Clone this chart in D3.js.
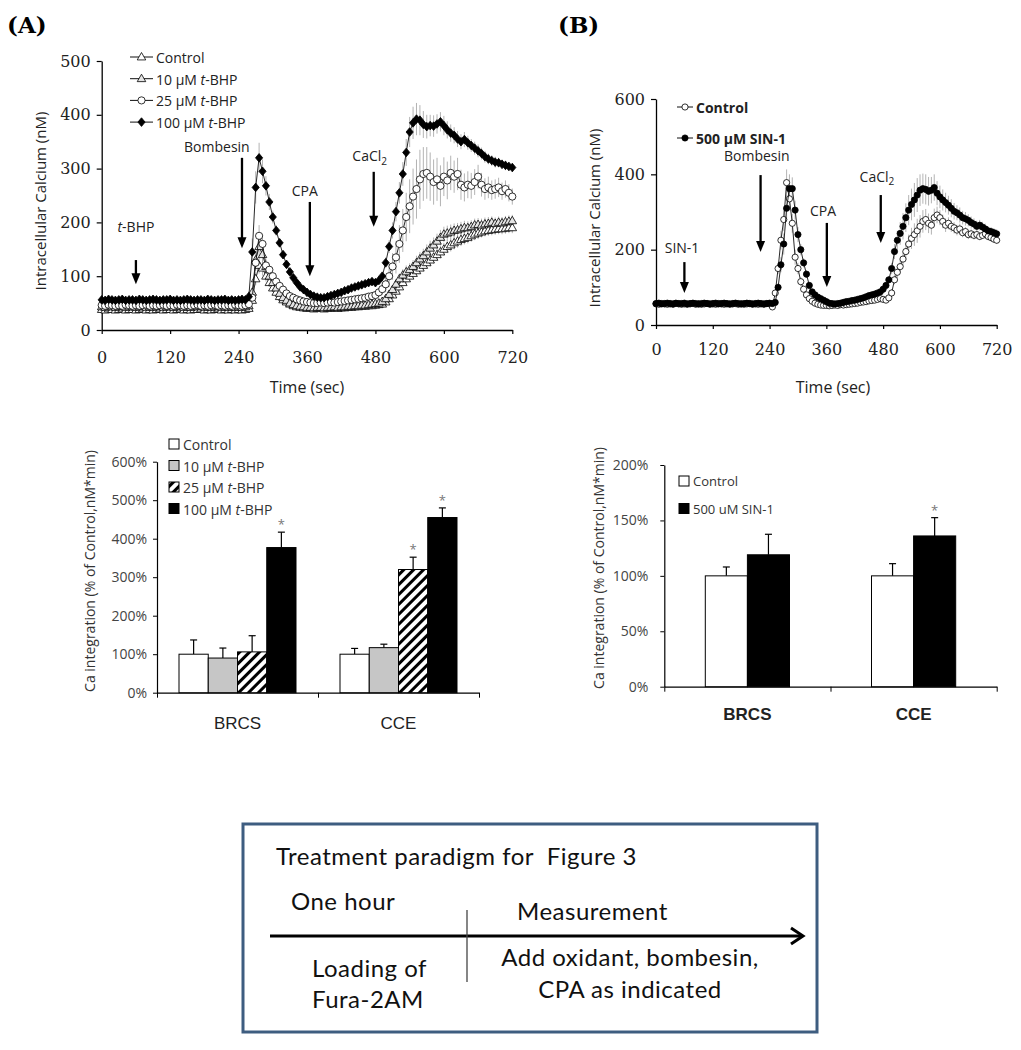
<!DOCTYPE html>
<html>
<head>
<meta charset="utf-8">
<script src="https://cdn.jsdelivr.net/npm/d3@7"></script>
<style>
  body { margin: 0; background: #fff; }
  svg { display: block; }
</style>
</head>
<body>
<svg id="fig" width="1021" height="1050"></svg>
<script>
// ---------- data ----------
// sampling grid of the calcium traces (sec)
const timeSec = d3.range(0, 721, 6);

// Panel A traces, intracellular calcium (nM)
const ctlA = [
  38,37,39,38,37,38,39,37,38,38,
  37,38,39,37,38,37,38,39,37,38,
  38,37,38,39,37,38,37,38,38,39,
  37,38,37,38,39,37,38,37,38,37,
  38,37,38,40,55,95,120,115,100,88,
  78,70,62,56,52,48,45,43,42,41,
  40,40,39,40,40,39,40,40,41,40,
  41,41,42,42,43,43,44,44,45,45,
  46,47,48,52,58,65,72,80,88,95,
  100,105,110,115,120,125,130,135,140,145,
  150,155,158,162,165,168,170,172,175,178,
  180,182,184,185,186,187,188,188,189,190,
  190];
const ctlAErr = [
  3,3,3,3,3,3,3,3,3,3, 3,3,3,3,3,3,3,3,3,3, 3,3,3,3,3,3,3,3,3,3, 3,3,3,3,3,3,3,3,3,3,
  3,3,3,3,6,12,15,14,10,8,
  7,6,5,4,4,3,3,3,3,3,
  3,3,3,3,3,3,3,3,3,3,
  3,3,3,3,3,3,3,3,3,3,
  3,3,4,5,6,7,8,9,10,10,
  10,10,10,11,11,11,12,12,12,12,
  12,12,12,12,12,12,11,11,11,11,
  11,10,10,10,10,10,10,10,10,10,
  10];
const bhp10 = [
  43,42,44,43,42,43,44,42,43,43,
  42,43,44,42,43,42,43,44,42,43,
  43,42,43,44,42,43,42,43,43,44,
  42,43,42,43,44,42,43,42,43,42,
  43,42,43,45,70,130,155,140,118,100,
  88,78,68,60,55,50,47,45,44,43,
  42,42,41,42,42,41,42,42,43,42,
  43,43,44,44,45,45,46,46,47,48,
  49,50,53,58,66,75,85,95,102,108,
  112,118,125,132,138,145,152,158,165,172,
  178,180,182,185,186,188,190,190,192,195,
  196,195,197,198,200,198,200,199,201,202,
  203];
const bhp10Err = [
  3,3,3,3,3,3,3,3,3,3, 3,3,3,3,3,3,3,3,3,3, 3,3,3,3,3,3,3,3,3,3, 3,3,3,3,3,3,3,3,3,3,
  3,3,3,3,8,14,18,15,12,10,
  8,7,6,5,4,4,3,3,3,3,
  3,3,3,3,3,3,3,3,3,3,
  3,3,3,3,4,4,4,4,4,4,
  4,4,5,6,7,8,9,10,11,12,
  12,12,13,13,13,14,14,14,14,14,
  14,14,14,13,13,13,13,12,12,12,
  12,12,12,12,11,11,11,11,11,11,
  11];
const bhp25 = [
  46,45,47,46,45,46,45,47,46,45,
  46,45,46,47,45,46,45,46,47,45,
  46,45,47,46,45,46,45,46,47,45,
  46,45,46,47,45,46,45,46,45,47,
  46,45,46,48,60,125,175,160,120,112,
  100,90,82,75,68,63,60,57,55,53,
  52,51,50,50,51,50,51,52,51,52,
  53,54,55,56,57,58,59,60,62,63,
  65,70,76,85,100,118,135,160,185,210,
  230,248,262,280,290,292,285,275,280,268,
  285,278,292,285,290,270,265,270,268,275,
  285,270,262,265,260,262,265,258,262,255,
  248];
const bhp25Err = [
  3,3,3,3,3,3,3,3,3,3, 3,3,3,3,3,3,3,3,3,3, 3,3,3,3,3,3,3,3,3,3, 3,3,3,3,3,3,3,3,3,3,
  3,3,3,4,8,15,20,18,12,10,
  8,6,5,5,4,4,4,4,4,4,
  4,4,4,4,4,4,4,4,4,4,
  5,5,5,5,5,5,5,6,6,6,
  6,8,10,15,20,25,30,35,40,45,
  50,52,55,55,50,48,45,42,40,38,
  36,35,32,30,30,28,26,25,24,24,
  22,22,20,20,18,18,18,16,16,16,
  15];
const bhp100 = [
  56,55,57,56,55,56,57,55,56,56,
  55,57,56,55,56,57,56,55,56,56,
  57,55,56,55,56,57,56,55,56,56,
  55,57,56,55,56,56,57,55,56,55,
  56,57,56,62,145,265,320,295,268,238,
  210,185,162,140,122,108,97,88,80,75,
  70,66,63,61,60,60,62,64,66,68,
  70,73,75,78,80,82,84,86,88,90,
  88,92,100,125,155,185,220,255,290,330,
  368,385,392,390,382,378,380,379,383,387,
  380,372,366,362,355,350,354,348,343,338,
  333,328,322,318,315,312,311,308,306,304,
  302];
const bhp100Err = [
  3,3,3,3,3,3,3,3,3,3, 3,3,3,3,3,3,3,3,3,3, 3,3,3,3,3,3,3,3,3,3, 3,3,3,3,3,3,3,3,3,3,
  3,3,3,10,25,30,28,22,18,15,
  12,10,8,7,6,5,5,5,4,4,
  4,4,4,4,4,4,4,4,4,4,
  5,5,5,5,5,5,5,5,5,5,
  5,6,8,10,12,15,18,20,22,25,
  28,30,30,28,25,22,20,20,18,18,
  18,16,16,15,15,14,14,13,12,12,
  12,11,11,10,10,10,9,9,9,8,
  8];

// Panel B traces (nM)
const ctlB = [
  56,55,57,56,55,56,55,57,56,55,
  56,55,56,57,55,56,55,56,57,55,
  56,55,57,56,55,56,55,56,57,55,
  56,55,56,57,55,56,55,56,55,57,
  56,48,85,150,225,280,378,335,270,180,
  150,115,95,80,70,63,58,55,53,52,
  52,51,52,53,52,54,53,54,55,56,
  57,58,60,61,62,64,65,66,68,70,
  68,66,72,85,120,140,155,175,195,215,
  230,240,250,262,275,280,270,265,285,292,
  285,275,265,270,262,258,252,255,245,248,
  240,242,238,240,235,238,242,235,232,228,
  225];
const ctlBErr = [
  3,3,3,3,3,3,3,3,3,3, 3,3,3,3,3,3,3,3,3,3, 3,3,3,3,3,3,3,3,3,3, 3,3,3,3,3,3,3,3,3,3,
  3,3,8,15,25,30,35,30,25,20,
  15,12,10,8,6,5,5,4,4,4,
  4,4,4,4,4,4,4,4,4,4,
  4,4,5,5,5,5,5,6,6,6,
  6,6,8,10,12,15,18,20,22,25,
  28,30,32,30,30,28,26,25,24,22,
  20,18,18,16,15,15,14,14,12,12,
  12,12,11,11,10,10,10,10,10,10,
  10];
const sin1 = [
  57,58,56,57,58,57,56,58,57,57,
  58,56,57,58,57,56,57,58,57,56,
  57,58,56,57,58,57,56,57,58,57,
  56,57,58,57,56,57,58,57,56,57,
  58,57,60,100,160,215,310,362,362,305,
  240,200,165,135,105,88,80,74,70,66,
  62,58,57,56,57,58,60,62,63,65,
  66,68,70,72,75,78,80,82,85,88,
  95,105,120,150,195,225,243,262,285,305,
  320,332,345,358,362,360,355,358,365,350,
  340,332,325,318,310,302,298,292,285,282,
  278,272,268,262,265,260,255,250,248,245,
  242];
const sin1Err = [
  3,3,3,3,3,3,3,3,3,3, 3,3,3,3,3,3,3,3,3,3, 3,3,3,3,3,3,3,3,3,3, 3,3,3,3,3,3,3,3,3,3,
  3,3,5,10,20,28,35,38,30,25,
  20,15,12,10,8,6,5,5,5,4,
  4,4,4,4,4,4,4,4,4,4,
  5,5,5,5,5,5,5,5,5,5,
  6,8,10,15,20,25,30,35,38,40,
  42,45,45,42,40,40,38,35,35,32,
  30,28,26,25,24,22,20,20,18,18,
  16,16,15,15,14,14,14,12,12,12,
  12];

// bar charts: Ca integration (% of control)
const categories = ['BRCS', 'CCE'];
const barKeysA = ['Control', '10 μM *t*-BHP', '25 μM *t*-BHP', '100 μM *t*-BHP'];
const barA = { BRCS: [100, 90, 106, 377], CCE: [100, 117, 320, 455] };
const barAErr = { BRCS: [37, 26, 42, 40], CCE: [15, 9, 32, 25] };
const barASig = { BRCS: [false, false, false, true], CCE: [false, false, true, true] };
const barKeysB = ['Control', '500 uM SIN-1'];
const barB = { BRCS: [100, 119], CCE: [100, 136] };
const barBErr = { BRCS: [8, 18.5], CCE: [11, 16.5] };
const barBSig = { BRCS: [false, false], CCE: [false, true] };

// drug additions (time in sec, arrow from/to in nM, label position)
const eventsA = [
  { t: 60,  from: 130, to: 85,  lt: 60,  ly: 183, label: '*t*-BHP' },
  { t: 246, from: 320, to: 152, lt: 202, ly: 330, label: 'Bombesin' },
  { t: 365, from: 238, to: 100, lt: 356, ly: 250, label: 'CPA' },
  { t: 477, from: 294, to: 192, lt: 470, ly: 314, label: 'CaCl_2' }
];
const eventsB = [
  { t: 60,  from: 167, to: 85,  lt: 55,  ly: 190, label: 'SIN-1' },
  { t: 221, from: 398, to: 194, lt: 213, ly: 435, label: 'Bombesin' },
  { t: 361, from: 271, to: 101, lt: 353, ly: 289, label: 'CPA' },
  { t: 475, from: 345, to: 218, lt: 467, ly: 380, label: 'CaCl_2' }
];

// ---------- drawing ----------
const svg = d3.select('#fig');
const sans = "'Open Sans', 'DejaVu Sans', sans-serif";
const serif = "'DejaVu Serif', 'Liberation Serif', serif";

const defs = svg.append('defs');
const hatch = defs.append('pattern').attr('id', 'hatch')
  .attr('patternUnits', 'userSpaceOnUse').attr('width', 7).attr('height', 7)
  .attr('patternTransform', 'rotate(45)');
hatch.append('rect').attr('width', 7).attr('height', 7).attr('fill', '#fff');
hatch.append('rect').attr('width', 3).attr('height', 7).attr('fill', '#000');

// text with *italic* parts and _subscript
function rich(sel, str) {
  str.split(/(\*[^*]+\*|_\d)/).filter(s => s).forEach(s => {
    if (s[0] === '*') sel.append('tspan').attr('font-style', 'italic').text(s.slice(1, -1));
    else if (s[0] === '_') sel.append('tspan').attr('font-size', '0.72em').attr('dy', '0.35em').text(s.slice(1));
    else sel.append('tspan').text(s);
  });
  return sel;
}

function marker(type, r) {
  if (type === 'diamond') return `M0,${-r * 1.2}L${r},0L0,${r * 1.2}L${-r},0Z`;
  if (type === 'triangle') return `M0,${-r}L${r * 0.95},${r * 0.65}L${-r * 0.95},${r * 0.65}Z`;
  return d3.symbol(d3.symbolCircle, Math.PI * r * r)();
}

function panelLabel(x, y, txt) {
  svg.append('text').attr('x', x).attr('y', y).text(txt)
    .attr('font-family', serif).attr('font-weight', 'bold')
    .attr('font-size', 23).attr('fill', '#000');
}

function tracePanel(o) {
  const g = svg.append('g');
  const x = d3.scaleLinear().domain([0, 720]).range(o.xr);
  const y = d3.scaleLinear().domain([0, o.ymax]).range(o.yr);

  const xa = g.append('g').attr('transform', `translate(0,${o.yr[0]})`)
    .call(d3.axisBottom(x).tickValues(d3.range(0, 721, 120)).tickSize(4).tickSizeOuter(0).tickPadding(o.xpad));
  const ya = g.append('g').attr('transform', `translate(${o.xr[0]},0)`)
    .call(d3.axisLeft(y).tickValues(o.yticks).tickSize(5).tickSizeOuter(0).tickPadding(6));
  [xa, ya].forEach(a => {
    a.select('.domain').attr('stroke', '#000').attr('stroke-width', 1.3);
    a.selectAll('.tick line').attr('stroke', '#000').attr('stroke-width', 1.2);
    a.selectAll('text').attr('font-family', serif).attr('font-size', 16).attr('fill', '#222');
  });

  g.append('text').attr('x', o.xlab[0]).attr('y', o.xlab[1]).attr('text-anchor', 'middle')
    .attr('font-family', sans).attr('font-size', 16).attr('fill', '#222').text('Time (sec)');
  g.append('text').attr('transform', `translate(${o.ylab[0]},${o.ylab[1]}) rotate(-90)`)
    .attr('text-anchor', 'middle').attr('dominant-baseline', 'central')
    .attr('font-family', sans).attr('font-size', 15).attr('fill', '#222')
    .text('Intracellular Calcium (nM)');

  // error bars
  o.series.forEach(s => {
    g.append('g').selectAll('line').data(s.values).join('line')
      .attr('x1', (d, i) => x(timeSec[i])).attr('x2', (d, i) => x(timeSec[i]))
      .attr('y1', (d, i) => y(d - s.err[i])).attr('y2', (d, i) => y(d + s.err[i]))
      .attr('stroke', '#a0a0a0').attr('stroke-width', 0.8);
  });
  // lines + markers
  o.series.forEach(s => {
    g.append('path').datum(s.values)
      .attr('d', d3.line().x((d, i) => x(timeSec[i])).y(d => y(d)))
      .attr('fill', 'none').attr('stroke', '#111').attr('stroke-width', 0.9);
    g.append('g').selectAll('path').data(s.values).join('path')
      .attr('d', marker(s.marker, s.r))
      .attr('transform', (d, i) => `translate(${x(timeSec[i])},${y(d)})`)
      .attr('fill', s.fill).attr('stroke', '#000').attr('stroke-width', 0.8);
  });

  // drug-addition arrows
  o.events.forEach(e => {
    const ax = x(e.t), y1 = y(e.from), y2 = y(e.to);
    g.append('line').attr('x1', ax).attr('x2', ax).attr('y1', y1).attr('y2', y2 - 8)
      .attr('stroke', '#000').attr('stroke-width', 2.3);
    g.append('path').attr('d', `M${ax - 4.5},${y2 - 11}L${ax + 4.5},${y2 - 11}L${ax},${y2}Z`).attr('fill', '#000');
    rich(g.append('text').attr('x', x(e.lt)).attr('y', y(e.ly)).attr('text-anchor', 'middle')
      .attr('font-family', sans).attr('font-size', 14).attr('fill', '#222'), e.label);
  });

  // legend
  o.series.forEach((s, i) => {
    const ly = o.leg.y + i * o.leg.dy;
    g.append('line').attr('x1', o.leg.x).attr('x2', o.leg.x + o.leg.w).attr('y1', ly).attr('y2', ly)
      .attr('stroke', '#111').attr('stroke-width', 1);
    g.append('path').attr('d', marker(s.marker, s.r))
      .attr('transform', `translate(${o.leg.x + o.leg.w / 2},${ly})`)
      .attr('fill', s.fill).attr('stroke', '#000').attr('stroke-width', 0.8);
    rich(g.append('text').attr('x', o.leg.x + o.leg.w + 3).attr('y', ly).attr('dominant-baseline', 'central')
      .attr('font-family', sans).attr('font-size', o.leg.size).attr('font-weight', o.leg.weight)
      .attr('fill', '#222'), s.name);
  });
}

function barPanel(o) {
  const g = svg.append('g');
  const x0 = d3.scaleBand().domain(categories).range(o.xr);
  const x1 = d3.scaleBand().domain(o.keys).range([o.pad, x0.bandwidth() - o.pad]);
  const y = d3.scaleLinear().domain([0, o.ymax]).range(o.yr);

  const ya = g.append('g').attr('transform', `translate(${o.xr[0]},0)`)
    .call(d3.axisLeft(y).tickValues(o.yticks).tickFormat(d => d + '%').tickSize(4).tickSizeOuter(0).tickPadding(o.ypad));
  ya.select('.domain').attr('stroke', '#000').attr('stroke-width', 1.2);
  ya.selectAll('.tick line').attr('stroke', '#000');
  ya.selectAll('text').attr('font-family', sans).attr('font-size', 14).attr('fill', '#444');

  const xa = g.append('g').attr('transform', `translate(0,${o.yr[0]})`)
    .call(d3.axisBottom(d3.scaleLinear().domain([0, 2]).range(o.xr)).tickValues([0, 1, 2]).tickFormat('').tickSize(5).tickSizeOuter(0));
  xa.select('.domain').attr('stroke', '#000').attr('stroke-width', 1.2);
  xa.selectAll('.tick line').attr('stroke', '#000');

  categories.forEach(c => {
    const cg = g.append('g').attr('transform', `translate(${x0(c)},0)`);
    o.keys.forEach((k, i) => {
      const v = o.values[c][i], e = o.err[c][i];
      const bx = x1(k), cx = bx + x1.bandwidth() / 2;
      cg.append('line').attr('x1', cx).attr('x2', cx).attr('y1', y(v)).attr('y2', y(v + e))
        .attr('stroke', '#000').attr('stroke-width', 1.2);
      cg.append('line').attr('x1', cx - 3.5).attr('x2', cx + 3.5).attr('y1', y(v + e)).attr('y2', y(v + e))
        .attr('stroke', '#000').attr('stroke-width', 1.2);
      cg.append('rect').attr('x', bx).attr('width', x1.bandwidth())
        .attr('y', y(v)).attr('height', y(0) - y(v))
        .attr('fill', o.fills[i]).attr('stroke', '#000').attr('stroke-width', 1);
      if (o.sig[c][i]) {
        cg.append('text').attr('x', cx).attr('y', y(v + e) - 3).attr('text-anchor', 'middle')
          .attr('font-family', sans).attr('font-size', 13).attr('fill', '#777').text('*');
      }
    });
    g.append('text').attr('x', x0(c) + x0.bandwidth() / 2).attr('y', o.catY).attr('text-anchor', 'middle')
      .attr('font-family', "'Liberation Sans Narrow', 'Liberation Sans', sans-serif")
      .attr('font-weight', o.catWeight).attr('font-size', 17).attr('fill', '#222').text(c);
  });

  g.append('text').attr('transform', `translate(${o.ylab[0]},${o.ylab[1]}) rotate(-90)`)
    .attr('text-anchor', 'middle').attr('dominant-baseline', 'central')
    .attr('font-family', sans).attr('font-size', 14).attr('fill', '#333')
    .text('Ca integration (% of Control,nM*min)');

  o.keys.forEach((k, i) => {
    const ly = o.leg.y + i * o.leg.dy;
    g.append('rect').attr('x', o.leg.x).attr('y', ly - 5).attr('width', 10).attr('height', 10)
      .attr('fill', o.fills[i]).attr('stroke', '#000').attr('stroke-width', 1);
    rich(g.append('text').attr('x', o.leg.x + 14).attr('y', ly).attr('dominant-baseline', 'central')
      .attr('font-family', sans).attr('font-size', o.leg.size).attr('fill', '#333'), k);
  });
}

panelLabel(7, 33, '(A)');
panelLabel(558, 33, '(B)');

tracePanel({
  xr: [101.7, 512.3], yr: [330, 61], ymax: 500, yticks: [0, 100, 200, 300, 400, 500], xpad: 18,
  xlab: [307, 393], ylab: [40, 201],
  series: [
    { name: 'Control', values: ctlA, err: ctlAErr, marker: 'triangle', r: 4.5, fill: '#fff' },
    { name: '10 μM *t*-BHP', values: bhp10, err: bhp10Err, marker: 'triangle', r: 4.5, fill: '#e4e4e4' },
    { name: '25 μM *t*-BHP', values: bhp25, err: bhp25Err, marker: 'circle', r: 3.6, fill: '#fff' },
    { name: '100 μM *t*-BHP', values: bhp100, err: bhp100Err, marker: 'diamond', r: 3.6, fill: '#000' }
  ],
  events: eventsA,
  leg: { x: 130, y: 57, dy: 21.7, w: 23, size: 14, weight: 'normal' }
});

tracePanel({
  xr: [656, 996.7], yr: [325, 99], ymax: 600, yticks: [0, 200, 400, 600], xpad: 15,
  xlab: [833, 393], ylab: [594, 218],
  series: [
    { name: 'Control', values: ctlB, err: ctlBErr, marker: 'circle', r: 3.1, fill: '#fff' },
    { name: '500 μM SIN-1', values: sin1, err: sin1Err, marker: 'circle', r: 3.1, fill: '#000' }
  ],
  events: eventsB,
  leg: { x: 677, y: 107, dy: 31, w: 16, size: 14, weight: 'bold' }
});

barPanel({
  xr: [157, 479], yr: [692.7, 461.7], ymax: 600, yticks: [0, 100, 200, 300, 400, 500, 600], ypad: 6,
  pad: 22, keys: barKeysA, values: barA, err: barAErr, sig: barASig,
  fills: ['#fff', '#c6c6c6', 'url(#hatch)', '#000'],
  catY: 729, catWeight: 'normal', ylab: [89, 571],
  leg: { x: 169, y: 444, dy: 21.5, size: 14 }
});

barPanel({
  xr: [664.3, 996.7], yr: [686.7, 465], ymax: 200, yticks: [0, 50, 100, 150, 200], ypad: 12,
  pad: 41, keys: barKeysB, values: barB, err: barBErr, sig: barBSig,
  fills: ['#fff', '#000'],
  catY: 720, catWeight: 'bold', ylab: [598, 568],
  leg: { x: 679, y: 481, dy: 27.5, size: 13 }
});

// treatment paradigm box
const box = svg.append('g');
const boxFont = "Lato, 'Open Sans', sans-serif";
box.append('rect').attr('x', 243).attr('y', 824).attr('width', 574).attr('height', 208)
  .attr('fill', '#fff').attr('stroke', '#3e5d80').attr('stroke-width', 3);
box.append('line').attr('x1', 270).attr('x2', 801).attr('y1', 936).attr('y2', 936)
  .attr('stroke', '#000').attr('stroke-width', 3);
box.append('path').attr('d', 'M791,928L803,936L791,944').attr('fill', 'none')
  .attr('stroke', '#000').attr('stroke-width', 3).attr('stroke-linejoin', 'miter');
box.append('line').attr('x1', 467).attr('x2', 467).attr('y1', 910).attr('y2', 982)
  .attr('stroke', '#444').attr('stroke-width', 1.3);
const boxText = [
  { x: 276, y: 865, a: 'start', t: 'Treatment paradigm for  Figure 3' },
  { x: 291, y: 910, a: 'start', t: 'One hour' },
  { x: 517, y: 920, a: 'start', t: 'Measurement' },
  { x: 312, y: 977, a: 'start', t: 'Loading of' },
  { x: 312, y: 1008, a: 'start', t: 'Fura-2AM' },
  { x: 630, y: 966, a: 'middle', t: 'Add oxidant, bombesin,' },
  { x: 630, y: 998, a: 'middle', t: 'CPA as indicated' }
];
box.selectAll('text.bt').data(boxText).join('text').attr('class', 'bt')
  .attr('x', d => d.x).attr('y', d => d.y).attr('text-anchor', d => d.a)
  .attr('font-family', boxFont).attr('font-size', 24).attr('letter-spacing', '0.5px').attr('fill', '#111')
  .attr('xml:space', 'preserve').style('white-space', 'pre').text(d => d.t);
</script>
</body>
</html>
